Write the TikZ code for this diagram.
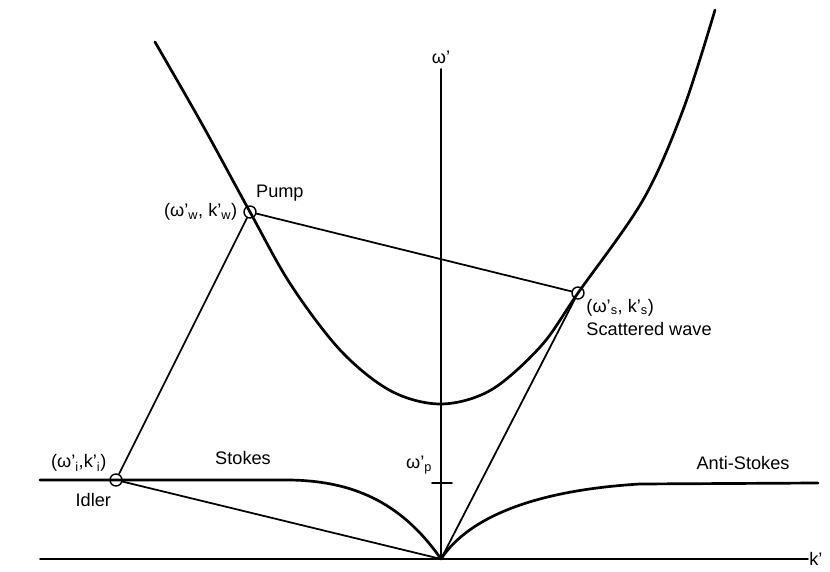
\documentclass[tikz,border=0pt]{standalone}
\usepackage{fontspec}
\setmainfont{Liberation Sans}
\usetikzlibrary{positioning}

\begin{document}
\begin{tikzpicture}[x=0.03cm, y=-0.03cm,
  curve/.style={line width=2.3pt, line join=round, line cap=round},
  thinline/.style={line width=1.5pt, line cap=round},
  ptcircle/.style={circle, draw, line width=1.2pt, minimum size=0.36cm, inner sep=0pt},
  lbl/.style={font=\fontsize{15.5}{20}\selectfont, inner sep=1pt}
]
\useasboundingbox (0,0) rectangle (830,572);

% Axes
\coordinate (origin) at (441,559);
\coordinate (kstart) at (40,559);
\coordinate (kend) at (808,559);
\coordinate (wtop) at (441,69);
\draw[thinline] (kstart) -- (kend);
\draw[thinline] (origin) -- (wtop);
\node[lbl, anchor=west] (klbl) at (kend) {k'};
\node[lbl, above=3pt of wtop] (wlbl) {ω'};

% Plasma frequency tick
\coordinate (tickl) at (432,483);
\coordinate (tickr) at (452,483);
\draw[thinline] (tickl) -- (tickr);
\node[lbl] (wplbl) at (419,465) {ω'\textsubscript{p}};

% Points on the curves
\node[ptcircle] (pump) at (250,212) {};
\node[ptcircle] (scat) at (578,293) {};
\node[ptcircle] (idler) at (116,480) {};

% Electromagnetic branch
\draw[curve] plot[smooth, tension=0.55] coordinates {(155,42) (202,124) (250,212) (291,285) (341,351) (391,391) (441,404) (491,390) (541,346) (578,293) (643,200) (683,110) (715,10)};

% Stokes and anti-Stokes branches
\draw[curve] (40,480) -- (290,480) .. controls (350,481) and (400,500) .. (origin);
\draw[curve] (origin) .. controls (470,515) and (540,490) .. (640,484) -- (818,483);

% Matching triangles
\draw[thinline] (pump) -- (scat);
\draw[thinline] (pump) -- (idler);
\draw[thinline] (idler) -- (origin);
\draw[thinline] (scat) -- (origin);

% Labels
\node[lbl, above right=4pt and 0pt of pump] (pumplbl) {Pump};
\node[lbl, left=4pt of pump] (pumpcrd) {(ω'\textsubscript{w}, k'\textsubscript{w})};
\node[lbl, below right=0pt and 2pt of scat, align=left] (scatlbl) {(ω'\textsubscript{s}, k'\textsubscript{s})\\Scattered wave};
\node[lbl, above left=2pt and 3pt of idler] (idlercrd) {(ω'\textsubscript{i},k'\textsubscript{i})};
\node[lbl, below left=6pt and -1pt of idler] (idlerlbl) {Idler};
\node[lbl] (stokes) at (243,458) {Stokes};
\node[lbl] (astokes) at (743,463) {Anti-Stokes};

\end{tikzpicture}
\end{document}
